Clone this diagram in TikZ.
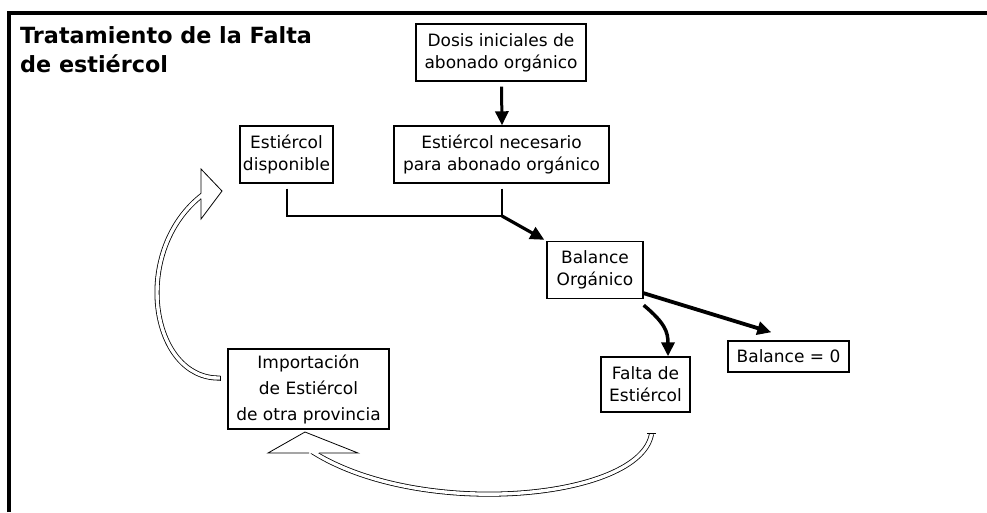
\documentclass[tikz,border=0pt]{standalone}
\usepackage{fontspec}
\setmainfont{DejaVu Sans}
\usetikzlibrary{arrows.meta,calc}
\begin{document}
\begin{tikzpicture}[x=1pt,y=-1pt,
  box/.style={draw, line width=1.4pt, align=center, inner sep=0pt, font=\fontsize{17}{22}\selectfont},
  link/.style={line width=2pt},
  arr/.style={line width=3pt, -{Triangle[length=14pt,width=13pt]}},
  shaft/.style={line width=0.8pt, double=white, double distance=3.4pt},
  head/.style={line width=0.8pt, line join=miter}]
\useasboundingbox (0,0) rectangle (987,512);
\fill[white] (0,0) rectangle (987,512);
% frame
\draw[line width=3.5pt] (9,512) -- (9,13) -- (987,13);
% title
\node[anchor=north west, inner sep=0pt, align=left, font=\fontsize{22.3}{29}\selectfont\bfseries] (title) at (20,26) {Tratamiento de la Falta\\de estiércol};
% boxes
\node[box, minimum width=170pt, minimum height=57pt] (dosis) at (501,52.5) {Dosis iniciales de\\abonado orgánico};
\node[box, minimum width=215pt, minimum height=57pt] (necesario) at (501.5,154.5) {Estiércol necesario\\para abonado orgánico};
\node[box, minimum width=93pt, minimum height=57pt] (disponible) at (286.5,154.5) {Estiércol\\disponible};
\node[box, minimum width=96pt, minimum height=57pt] (balance) at (595,270) {Balance\\Orgánico};
\node[box, minimum width=89pt, minimum height=55pt] (falta) at (645.5,384.5) {Falta de\\Estiércol};
\node[box, minimum width=121pt, minimum height=31pt] (cero) at (788.5,356.5) {Balance = 0};
\node[box, minimum width=161pt, minimum height=80pt, font=\fontsize{17}{26}\selectfont] (import) at (308.5,389) {Importación\\de Estiércol\\de otra provincia};
% connectors
\draw[arr] ($(dosis.south)+(0.5,5)$) -- ($(necesario.north)+(0.5,0)$);
\coordinate (j) at (502,216);
\draw[link] ($(disponible.south)+(0.5,5)$) |- (j);
\draw[link] ($(necesario.south)+(0.5,5)$) -- (j);
\draw[arr, line width=3.2pt] (j) -- ($(balance.north west)+(-2,-1)$);
\draw[arr, line width=3.8pt] ($(balance.south east)+(0,-6)$) -- ($(cero.north west)+(44,-8)$);
\draw[arr, line width=3.5pt] ($(balance.south east)+(0,6)$) .. controls (665,323) and (668,332) .. ($(falta.north)+(22.5,0)$);
% hollow arrow: Importacion -> disponible
\draw[shaft] ($(import.west)+(-7,-11)$) .. controls (150,380) and (130,250) .. (203,194.5);
\draw[head] ($(import.west)+(-7,-13.5)$) -- ($(import.west)+(-7,-8.5)$);
\fill[white] (201,169) -- (222,191) -- (201,219) -- cycle;
\draw[head] (201,193.5) -- (201,169) -- (222,191) -- (201,219) -- (201,198.5);
% hollow arrow: Falta -> Importacion
\draw[shaft] (651.5,434) .. controls (640,500) and (420,520) .. (312,451.5);
\draw[head] (647,433.6) -- (656,433.6);
\fill[white] (268,453) -- (305,432) -- (358,453) -- cycle;
\draw[head] (309.2,453) -- (268,453) -- (305,432) -- (358,453) -- (318.8,453);
\end{tikzpicture}
\end{document}
